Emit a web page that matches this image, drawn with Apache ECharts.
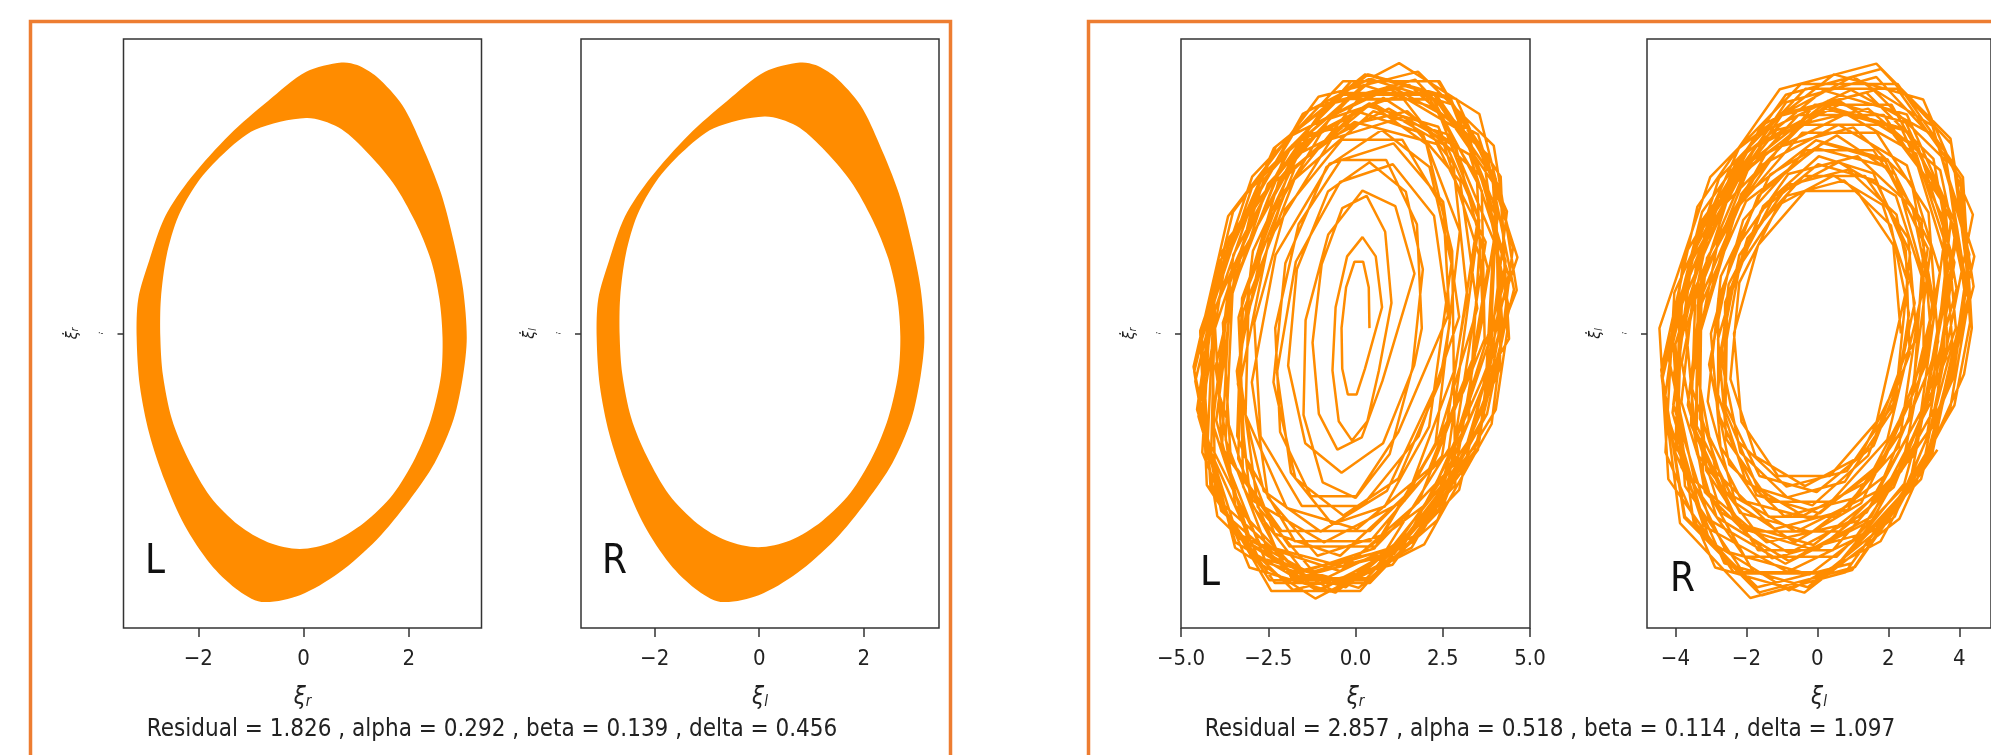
<!DOCTYPE html>
<html>
<head>
<meta charset="utf-8">
<title>Phase portraits</title>
<script src="https://cdn.jsdelivr.net/npm/echarts@6/dist/echarts.min.js"></script>
<style>
  html, body { margin: 0; padding: 0; background: #fff; }
  #main { width: 1991px; height: 755px; }
</style>
</head>
<body>
<div id="main"></div>
<script>
// ---- data ----
// first case: the trajectory fills a band, kept as its outer and inner edge
const bandLOuter = [[0.72,3.22],[0.05,3.11],[-0.68,2.76],[-1.41,2.36],[-2.14,1.85],[-2.63,1.39],[-2.93,0.87],[-3.14,0.41],[-3.17,-0.05],[-3.11,-0.62],[-2.93,-1.19],[-2.63,-1.76],[-2.26,-2.28],[-1.77,-2.74],[-1.29,-3.03],[-0.80,-3.19],[-0.07,-3.11],[0.66,-2.85],[1.39,-2.45],[2.00,-1.99],[2.49,-1.54],[2.85,-1.02],[3.03,-0.50],[3.10,-0.05],[3.03,0.53],[2.85,1.10],[2.61,1.67],[2.24,2.25],[1.88,2.71],[1.39,3.05],[1.02,3.19]];
const bandLInner = [[0.05,2.56],[-0.92,2.42],[-1.53,2.13],[-2.02,1.79],[-2.38,1.39],[-2.60,0.93],[-2.71,0.41],[-2.72,-0.05],[-2.67,-0.50],[-2.50,-1.02],[-2.20,-1.48],[-1.77,-1.94],[-1.23,-2.28],[-0.68,-2.48],[-0.07,-2.56],[0.54,-2.48],[1.15,-2.25],[1.70,-1.91],[2.12,-1.48],[2.42,-1.02],[2.61,-0.50],[2.64,-0.05],[2.58,0.41],[2.42,0.87],[2.12,1.33],[1.70,1.79],[1.15,2.19],[0.66,2.45]];
const bandROuter = [[0.78,3.22],[0.11,3.11],[-0.62,2.76],[-1.35,2.36],[-2.08,1.85],[-2.57,1.39],[-2.87,0.87],[-3.08,0.41],[-3.11,-0.05],[-3.05,-0.62],[-2.87,-1.19],[-2.57,-1.76],[-2.20,-2.28],[-1.71,-2.74],[-1.23,-3.03],[-0.74,-3.19],[-0.01,-3.11],[0.72,-2.85],[1.45,-2.45],[2.06,-1.99],[2.55,-1.54],[2.91,-1.02],[3.09,-0.50],[3.16,-0.05],[3.09,0.53],[2.91,1.10],[2.67,1.67],[2.30,2.25],[1.94,2.71],[1.45,3.05],[1.08,3.19]];
const bandRInner = [[0.10,2.58],[-0.87,2.44],[-1.48,2.15],[-1.97,1.81],[-2.33,1.41],[-2.55,0.95],[-2.66,0.43],[-2.67,-0.03],[-2.62,-0.48],[-2.45,-1.00],[-2.15,-1.46],[-1.72,-1.92],[-1.18,-2.26],[-0.63,-2.46],[-0.02,-2.54],[0.59,-2.46],[1.20,-2.23],[1.75,-1.89],[2.17,-1.46],[2.47,-1.00],[2.66,-0.48],[2.70,-0.03],[2.64,0.43],[2.47,0.89],[2.17,1.35],[1.75,1.81],[1.20,2.21],[0.71,2.47]];

// second case: coarse sampled trajectory, drawn as a polyline
const trajL = [
  [0.40,0.10],[0.38,0.86],[0.22,1.34],[-0.03,1.34],[-0.27,0.86],[-0.40,0.10],[-0.38,-0.66],[-0.22,-1.14],[0.03,-1.14],[0.27,-0.66],
  [0.76,0.49],[0.58,1.44],[0.20,1.80],[-0.24,1.44],[-0.57,0.49],[-0.66,-0.69],[-0.48,-1.64],[-0.10,-2.00],[0.34,-1.64],[0.67,-0.69],
  [1.03,0.57],[0.85,1.90],[0.32,2.57],[-0.38,2.34],[-0.97,1.29],[-1.23,-0.17],[-1.05,-1.50],[-0.52,-2.17],[0.18,-1.94],[0.77,-0.89],
  [1.69,1.12],[1.14,2.38],[0.20,2.67],[-0.78,1.85],[-1.43,0.25],[-1.49,-1.52],[-0.94,-2.78],[0.00,-3.07],[0.98,-2.25],[1.63,-0.65],
  [1.93,1.20],[1.44,2.65],[0.40,3.20],[-0.79,2.65],[-1.68,1.20],[-1.93,-0.60],[-1.44,-2.05],[-0.40,-2.60],[0.79,-2.05],[1.68,-0.60],
  [1.90,0.10],[1.76,2.04],[0.88,3.24],[-0.42,3.24],[-1.63,2.04],[-2.30,0.10],[-2.16,-1.84],[-1.28,-3.04],[0.02,-3.04],[1.23,-1.84],
  [2.65,0.33],[2.25,2.20],[1.07,3.16],[-0.44,2.83],[-1.71,1.34],[-2.25,-0.73],[-1.85,-2.60],[-0.67,-3.56],[0.84,-3.23],[2.11,-1.74],
  [2.75,1.31],[2.12,3.11],[0.75,3.80],[-0.83,3.11],[-2.01,1.31],[-2.35,-0.91],[-1.72,-2.71],[-0.35,-3.40],[1.23,-2.71],[2.41,-0.91],
  [2.70,0.20],[2.52,2.32],[1.34,3.62],[-0.39,3.62],[-2.01,2.32],[-2.90,0.20],[-2.72,-1.92],[-1.54,-3.22],[0.19,-3.22],[1.81,-1.92],
  [2.97,0.31],[2.51,2.46],[1.09,3.55],[-0.74,3.17],[-2.29,1.47],[-2.97,-0.91],[-2.51,-3.06],[-1.09,-4.15],[0.74,-3.77],[2.29,-2.07],
  [2.99,1.91],[1.92,3.74],[0.04,4.15],[-1.93,2.97],[-3.25,0.66],[-3.39,-1.91],[-2.32,-3.74],[-0.44,-4.15],[1.53,-2.97],[2.85,-0.66],
  [3.20,0.70],[2.80,3.18],[1.29,4.45],[-0.75,4.01],[-2.54,2.04],[-3.40,-0.70],[-3.00,-3.18],[-1.49,-4.45],[0.55,-4.01],[2.34,-2.04],
  [3.49,0.47],[3.00,2.84],[1.41,4.05],[-0.69,3.63],[-2.48,1.75],[-3.29,-0.87],[-2.80,-3.24],[-1.21,-4.45],[0.89,-4.03],[2.68,-2.15],
  [3.55,2.12],[2.37,3.86],[0.36,4.25],[-1.71,3.13],[-3.05,0.92],[-3.15,-1.52],[-1.97,-3.26],[0.04,-3.65],[2.11,-2.53],[3.45,-0.32],
  [3.65,0.30],[3.48,2.89],[2.04,4.48],[-0.12,4.48],[-2.18,2.89],[-3.35,0.30],[-3.18,-2.29],[-1.74,-3.88],[0.42,-3.88],[2.48,-2.29],
  [3.52,2.19],[2.34,4.20],[0.23,4.64],[-2.01,3.35],[-3.52,0.82],[-3.72,-1.99],[-2.54,-4.00],[-0.43,-4.44],[1.81,-3.15],[3.32,-0.62],
  [3.79,1.22],[2.86,3.52],[0.80,4.40],[-1.61,3.52],[-3.44,1.22],[-3.99,-1.62],[-3.06,-3.92],[-1.00,-4.80],[1.41,-3.92],[3.24,-1.62],
  [3.54,1.47],[2.54,3.52],[0.50,4.30],[-1.81,3.52],[-3.50,1.47],[-3.94,-1.07],[-2.94,-3.12],[-0.90,-3.90],[1.41,-3.12],[3.10,-1.07],
  [3.70,-0.10],[3.62,2.66],[2.23,4.37],[0.07,4.37],[-2.04,2.66],[-3.30,-0.10],[-3.22,-2.86],[-1.83,-4.57],[0.33,-4.57],[2.44,-2.86],
  [4.21,0.83],[3.64,3.42],[1.71,4.74],[-0.83,4.29],[-3.01,2.23],[-4.01,-0.63],[-3.44,-3.22],[-1.51,-4.54],[1.03,-4.09],[3.21,-2.03],
  [4.20,0.20],[3.97,2.79],[2.29,4.38],[-0.18,4.38],[-2.51,2.79],[-3.80,0.20],[-3.57,-2.39],[-1.89,-3.98],[0.58,-3.98],[2.91,-2.39],
  [4.09,2.22],[2.74,4.37],[0.28,4.84],[-2.34,3.46],[-4.13,0.76],[-4.39,-2.22],[-3.04,-4.37],[-0.58,-4.84],[2.04,-3.46],[3.83,-0.76],
  [4.03,2.18],[2.76,4.28],[0.48,4.74],[-1.95,3.39],[-3.60,0.75],[-3.83,-2.18],[-2.56,-4.28],[-0.28,-4.74],[2.15,-3.39],[3.80,-0.75],
  [4.40,-0.10],[4.15,2.72],[2.31,4.46],[-0.41,4.46],[-2.97,2.72],[-4.40,-0.10],[-4.15,-2.92],[-2.31,-4.66],[0.41,-4.66],[2.97,-2.92],
  [4.39,1.09],[3.27,3.34],[0.95,4.20],[-1.67,3.34],[-3.60,1.09],[-4.09,-1.69],[-2.97,-3.94],[-0.65,-4.80],[1.97,-3.94],[3.90,-1.69],
  [4.51,1.60],[3.55,4.10],[1.25,5.05],[-1.51,4.10],[-3.67,1.60],[-4.41,-1.50],[-3.45,-4.00],[-1.15,-4.95],[1.61,-4.00],[3.77,-1.50],
  [4.39,0.49],[3.65,2.91],[1.48,4.15],[-1.30,3.72],[-3.61,1.80],[-4.59,-0.89],[-3.85,-3.31],[-1.68,-4.55],[1.10,-4.12],[3.41,-2.20],
  [4.54,0.82],[3.77,3.35],[1.54,4.64],[-1.29,4.20],[-3.65,2.19],[-4.64,-0.62],[-3.87,-3.15],[-1.64,-4.44],[1.19,-4.00],[3.55,-1.99],
  [4.30,1.35],[3.24,3.70],[0.90,4.60],[-1.82,3.70],[-3.88,1.35],[-4.50,-1.55],[-3.44,-3.90],[-1.10,-4.80],[1.62,-3.90],[3.68,-1.55],
  [3.96,1.74],[2.69,3.71],[0.51,4.15],[-1.75,2.88],[-3.23,0.40],[-3.36,-2.34],[-2.09,-4.31],[0.09,-4.75],[2.35,-3.48],[3.83,-1.00],
  [4.10,-0.05],[4.02,2.89],[2.41,4.71],[-0.13,4.71],[-2.61,2.89],[-4.10,-0.05],[-4.02,-2.99],[-2.41,-4.81],[0.13,-4.81],[2.61,-2.99],
  [3.73,1.71],[2.33,3.54],[-0.03,3.95],[-2.46,2.77],[-4.03,0.46],[-4.13,-2.11],[-2.73,-3.94],[-0.37,-4.35],[2.06,-3.17],[3.63,-0.86],
  [4.62,0.81],[3.96,3.51],[1.79,4.89],[-1.06,4.42],[-3.51,2.27],[-4.62,-0.71],[-3.96,-3.41],[-1.79,-4.79],[1.06,-4.32],[3.51,-2.17],
  [4.34,2.28],[2.89,4.38],[0.37,4.84],[-2.28,3.49],[-4.04,0.85],[-4.24,-2.08],[-2.79,-4.18],[-0.27,-4.64],[2.38,-3.29],[4.14,-0.65],
  [4.15,0.40],[3.93,2.93],[2.22,4.49],[-0.31,4.49],[-2.71,2.93],[-4.05,0.40],[-3.83,-2.13],[-2.12,-3.69],[0.41,-3.69],[2.81,-2.13],
  [4.64,1.42],[3.51,3.72],[1.05,4.60],[-1.79,3.72],[-3.92,1.42],[-4.54,-1.42],[-3.41,-3.72],[-0.95,-4.60],[1.89,-3.72],[4.02,-1.42],
  [4.35,0.05],[4.16,2.93],[2.36,4.71],[-0.36,4.71],[-2.96,2.93],[-4.45,0.05],[-4.26,-2.83],[-2.46,-4.61],[0.26,-4.61],[2.86,-2.83],
  [2.77,1.54],[2.03,3.54],[0.40,4.30],[-1.50,3.54],[-2.94,1.54],[-3.37,-0.94],[-2.63,-2.94],[-1.00,-3.70],[0.90,-2.94],[2.34,-0.94]
];
const trajR = [
  [2.35,0.00],[2.14,1.65],[1.11,2.66],[-0.35,2.66],[-1.67,1.65],[-2.35,0.00],[-2.14,-1.65],[-1.11,-2.66],[0.35,-2.66],[1.67,-1.65],
  [2.55,0.95],[1.84,2.40],[0.45,2.95],[-1.10,2.40],[-2.20,0.95],[-2.45,-0.85],[-1.74,-2.30],[-0.35,-2.85],[1.20,-2.30],[2.30,-0.85],
  [2.58,0.37],[2.07,2.02],[0.75,2.86],[-0.87,2.57],[-2.19,1.26],[-2.68,-0.57],[-2.17,-2.22],[-0.85,-3.06],[0.77,-2.77],[2.09,-1.46],
  [2.74,0.57],[2.23,2.22],[0.87,3.06],[-0.83,2.77],[-2.20,1.46],[-2.74,-0.37],[-2.23,-2.02],[-0.87,-2.86],[0.83,-2.57],[2.20,-1.26],
  [2.61,1.51],[1.63,2.86],[0.02,3.16],[-1.59,2.29],[-2.60,0.58],[-2.61,-1.31],[-1.63,-2.66],[-0.02,-2.96],[1.59,-2.09],[2.60,-0.38],
  [2.49,1.55],[1.58,2.99],[0.04,3.31],[-1.53,2.38],[-2.54,0.56],[-2.59,-1.45],[-1.68,-2.89],[-0.14,-3.21],[1.43,-2.28],[2.44,-0.46],
  [2.80,-0.10],[2.56,1.78],[1.34,2.94],[-0.39,2.94],[-1.97,1.78],[-2.80,-0.10],[-2.56,-1.98],[-1.34,-3.14],[0.39,-3.14],[1.97,-1.98],
  [3.01,0.92],[2.21,2.57],[0.60,3.20],[-1.20,2.57],[-2.50,0.92],[-2.81,-1.12],[-2.01,-2.77],[-0.40,-3.40],[1.40,-2.77],[2.70,-1.12],
  [3.00,1.69],[1.91,3.22],[0.13,3.56],[-1.67,2.57],[-2.79,0.65],[-2.80,-1.49],[-1.71,-3.02],[0.07,-3.36],[1.87,-2.37],[2.99,-0.45],
  [2.99,1.07],[2.20,2.97],[0.55,3.70],[-1.33,2.97],[-2.72,1.07],[-3.09,-1.27],[-2.30,-3.17],[-0.65,-3.90],[1.23,-3.17],[2.62,-1.27],
  [3.25,0.48],[2.68,2.35],[1.13,3.31],[-0.82,2.98],[-2.41,1.49],[-3.05,-0.58],[-2.48,-2.45],[-0.93,-3.41],[1.02,-3.08],[2.61,-1.59],
  [3.20,0.00],[2.93,2.12],[1.58,3.42],[-0.34,3.42],[-2.09,2.12],[-3.00,0.00],[-2.73,-2.12],[-1.38,-3.42],[0.54,-3.42],[2.29,-2.12],
  [3.11,1.59],[1.93,3.12],[-0.02,3.46],[-2.01,2.47],[-3.27,0.55],[-3.31,-1.59],[-2.13,-3.12],[-0.18,-3.46],[1.81,-2.47],[3.07,-0.55],
  [3.25,0.69],[2.66,2.79],[1.01,3.85],[-1.06,3.49],[-2.77,1.83],[-3.45,-0.49],[-2.86,-2.59],[-1.21,-3.65],[0.86,-3.29],[2.57,-1.63],
  [3.20,1.63],[1.98,3.25],[-0.04,3.61],[-2.08,2.57],[-3.37,0.53],[-3.40,-1.73],[-2.18,-3.35],[-0.16,-3.71],[1.88,-2.67],[3.17,-0.63],
  [3.40,-0.15],[3.13,2.26],[1.67,3.75],[-0.43,3.75],[-2.37,2.26],[-3.40,-0.15],[-3.13,-2.56],[-1.67,-4.05],[0.43,-4.05],[2.37,-2.56],
  [3.45,1.14],[2.52,3.14],[0.60,3.90],[-1.59,3.14],[-3.21,1.14],[-3.65,-1.34],[-2.72,-3.34],[-0.80,-4.10],[1.39,-3.34],[3.01,-1.34],
  [3.74,1.41],[2.78,3.36],[0.80,4.10],[-1.45,3.36],[-3.11,1.41],[-3.54,-1.01],[-2.58,-2.96],[-0.60,-3.70],[1.65,-2.96],[3.31,-1.01],
  [3.90,0.10],[3.59,2.45],[1.94,3.90],[-0.41,3.90],[-2.56,2.45],[-3.70,0.10],[-3.39,-2.25],[-1.74,-3.70],[0.61,-3.70],[2.76,-2.25],
  [3.63,2.01],[2.36,3.84],[0.23,4.25],[-1.95,3.07],[-3.35,0.76],[-3.43,-1.81],[-2.16,-3.64],[-0.03,-4.05],[2.15,-2.87],[3.55,-0.56],
  [3.63,1.38],[2.64,3.53],[0.60,4.35],[-1.71,3.53],[-3.40,1.38],[-3.83,-1.28],[-2.84,-3.43],[-0.80,-4.25],[1.51,-3.43],[3.20,-1.28],
  [3.76,2.11],[2.49,3.94],[0.31,4.35],[-1.95,3.17],[-3.43,0.86],[-3.56,-1.71],[-2.29,-3.54],[-0.11,-3.95],[2.15,-2.77],[3.63,-0.46],
  [3.65,-0.10],[3.51,2.60],[2.09,4.27],[-0.08,4.27],[-2.15,2.60],[-3.35,-0.10],[-3.21,-2.80],[-1.79,-4.47],[0.38,-4.47],[2.45,-2.80],
  [3.92,0.84],[3.27,3.26],[1.38,4.50],[-1.01,4.07],[-3.00,2.15],[-3.82,-0.54],[-3.17,-2.96],[-1.28,-4.20],[1.11,-3.77],[3.10,-1.85],
  [3.86,1.33],[2.84,3.48],[0.70,4.30],[-1.75,3.48],[-3.56,1.33],[-4.06,-1.33],[-3.04,-3.48],[-0.90,-4.30],[1.55,-3.48],[3.36,-1.33],
  [3.80,-0.20],[3.53,2.45],[1.87,4.08],[-0.54,4.08],[-2.79,2.45],[-4.00,-0.20],[-3.73,-2.85],[-2.07,-4.48],[0.34,-4.48],[2.59,-2.85],
  [3.95,1.85],[2.57,3.77],[0.22,4.20],[-2.23,2.96],[-3.82,0.54],[-3.95,-2.15],[-2.57,-4.07],[-0.22,-4.50],[2.23,-3.26],[3.82,-0.84],
  [4.18,0.79],[3.46,3.05],[1.43,4.20],[-1.15,3.80],[-3.29,2.01],[-4.18,-0.49],[-3.46,-2.75],[-1.43,-3.90],[1.15,-3.50],[3.29,-1.71],
  [3.90,2.03],[2.52,4.09],[0.17,4.54],[-2.28,3.22],[-3.87,0.63],[-4.00,-2.23],[-2.62,-4.29],[-0.27,-4.74],[2.18,-3.42],[3.77,-0.83],
  [4.28,1.48],[3.24,3.88],[1.00,4.80],[-1.58,3.88],[-3.52,1.48],[-4.08,-1.48],[-3.04,-3.88],[-0.80,-4.80],[1.78,-3.88],[3.72,-1.48],
  [4.26,0.63],[3.63,3.22],[1.59,4.54],[-1.07,4.09],[-3.34,2.03],[-4.36,-0.83],[-3.73,-3.42],[-1.69,-4.74],[0.97,-4.29],[3.24,-2.23],
  [4.16,0.71],[3.59,3.41],[1.66,4.79],[-0.88,4.32],[-3.06,2.17],[-4.06,-0.81],[-3.49,-3.51],[-1.56,-4.89],[0.98,-4.42],[3.16,-2.27],
  [4.42,1.44],[3.31,3.69],[0.95,4.55],[-1.75,3.69],[-3.76,1.44],[-4.32,-1.34],[-3.21,-3.59],[-0.85,-4.45],[1.85,-3.59],[3.86,-1.34],
  [4.30,0.20],[4.03,2.90],[2.25,4.57],[-0.34,4.57],[-2.77,2.90],[-4.10,0.20],[-3.83,-2.50],[-2.05,-4.17],[0.54,-4.17],[2.97,-2.50],
  [4.38,2.22],[2.98,4.37],[0.47,4.84],[-2.21,3.46],[-4.03,0.76],[-4.28,-2.22],[-2.88,-4.37],[-0.37,-4.84],[2.31,-3.46],[4.13,-0.76],
  [4.35,0.10],[4.10,2.92],[2.26,4.66],[-0.46,4.66],[-3.02,2.92],[-4.45,0.10],[-4.20,-2.72],[-2.36,-4.46],[0.36,-4.46],[2.92,-2.72],
  [4.29,0.78],[3.77,3.54],[1.79,4.94],[-0.89,4.46],[-3.25,2.27],[-4.39,-0.78],[-3.87,-3.54],[-1.89,-4.94],[0.79,-4.46],[3.15,-2.27],
  [4.40,0.88],[3.75,3.64],[1.66,5.04],[-1.06,4.56],[-3.38,2.37],[-4.40,-0.68],[-3.75,-3.44],[-1.66,-4.84],[1.06,-4.36],[3.38,-2.17]
];

const xTicksBand = [-2, 0, 2];
const xTicksL2 = [-5, -2.5, 0, 2.5, 5];
const xTicksR2 = [-4, -2, 0, 2, 4];
const xRanges = [[-3.42, 3.38], [-3.41, 3.44], [-5, 5], [-4.8, 4.89]];
const yRanges = [[-3.5, 3.5], [-3.5, 3.5], [-5.5, 5.5], [-5.5, 5.5]];
const sideNames = ['L', 'R', 'L', 'R'];
const subNames = ['r', 'l', 'r', 'l'];
const captions = [
  'Residual = 1.826 , alpha = 0.292 , beta = 0.139 , delta = 0.456',
  'Residual = 2.857 , alpha = 0.518 , beta = 0.114 , delta = 1.097'
];

// ---- layout ----
const ORANGE = '#ff8c00';
const FRAME = '#ed7d31';
const FONT = '"DejaVu Sans Condensed", "Liberation Sans Narrow", "DejaVu Sans", sans-serif';
const grids = [
  {left: 123.5, top: 39, width: 358, height: 589},
  {left: 581, top: 39, width: 358, height: 589},
  {left: 1181, top: 39, width: 349, height: 589},
  {left: 1647, top: 39, width: 349, height: 589}
];
const tickSets = [xTicksBand, xTicksBand, xTicksL2, xTicksR2];
const tickDigits = [0, 0, 1, 0];

function fmt(v, d) {
  return (v < 0 ? '\u2212' : '') + Math.abs(v).toFixed(d);
}

const chart = echarts.init(document.getElementById('main'), null, {renderer: 'canvas'});

const xAxes = grids.map((g, i) => ({
  gridIndex: i,
  type: 'value',
  min: xRanges[i][0],
  max: xRanges[i][1],
  splitLine: {show: false},
  axisLine: {show: false, onZero: false},
  axisTick: {show: true, length: 9, customValues: tickSets[i], lineStyle: {color: '#333', width: 1.5}},
  axisLabel: {
    customValues: tickSets[i], margin: 20, fontSize: 22, color: '#222', fontFamily: FONT,
    formatter: v => fmt(v, tickDigits[i])
  },
  name: '{x|\u03be}{s|' + subNames[i] + '}',
  nameLocation: 'middle',
  nameGap: 52,
  nameTextStyle: {
    fontFamily: FONT,
    rich: {
      x: {fontSize: 24, fontStyle: 'italic', color: '#222', fontFamily: FONT, lineHeight: 30, verticalAlign: 'bottom'},
      s: {fontSize: 15, fontStyle: 'italic', color: '#222', fontFamily: FONT, lineHeight: 12, verticalAlign: 'bottom'}
    }
  }
}));

const yAxes = grids.map((g, i) => ({
  gridIndex: i,
  type: 'value',
  min: yRanges[i][0],
  max: yRanges[i][1],
  splitLine: {show: false},
  axisLine: {show: false, onZero: false},
  axisTick: {show: true, length: 6, customValues: [0], lineStyle: {color: '#333', width: 1.5}},
  axisLabel: {customValues: [0], margin: 20, fontSize: 9, color: '#222', fontFamily: FONT, formatter: () => '\u00b7-'},
  name: '{x|\u03be\u0307}{s|' + subNames[i] + '}',
  nameLocation: 'middle',
  nameRotate: 90,
  nameGap: 43,
  nameTextStyle: {
    fontFamily: FONT,
    rich: {
      x: {fontSize: 16, fontStyle: 'italic', color: '#222', fontFamily: FONT, lineHeight: 20, verticalAlign: 'bottom'},
      s: {fontSize: 10, fontStyle: 'italic', color: '#222', fontFamily: FONT, lineHeight: 8, verticalAlign: 'bottom'}
    }
  }
}));

function bandSeries(i, outer, inner) {
  return {
    type: 'custom',
    xAxisIndex: i,
    yAxisIndex: i,
    data: outer,
    silent: true,
    renderItem: (params, api) => {
      if (params.dataIndex !== 0) return null;
      return {
        type: 'group',
        children: [
          {type: 'polygon', shape: {points: outer.map(p => api.coord(p)), smooth: 0.3}, style: {fill: ORANGE}},
          {type: 'polygon', shape: {points: inner.map(p => api.coord(p)), smooth: 0.3}, style: {fill: '#fff'}}
        ]
      };
    }
  };
}

function trajSeries(i, pts) {
  return {
    type: 'line',
    xAxisIndex: i,
    yAxisIndex: i,
    data: pts,
    showSymbol: false,
    symbol: 'none',
    silent: true,
    lineStyle: {color: ORANGE, width: 2.5},
    z: 3
  };
}

const sideLabelPos = [[145, 563], [602, 563], [1200, 575], [1670, 581]];

const option = {
  animation: false,
  backgroundColor: '#fff',
  grid: grids.map(g => Object.assign({show: true, borderColor: '#333', borderWidth: 1.5, backgroundColor: 'transparent'}, g)),
  xAxis: xAxes,
  yAxis: yAxes,
  series: [
    bandSeries(0, bandLOuter, bandLInner),
    bandSeries(1, bandROuter, bandRInner),
    trajSeries(2, trajL),
    trajSeries(3, trajR)
  ],
  graphic: [
    {type: 'rect', shape: {x: 30.5, y: 21.5, width: 920, height: 800}, style: {fill: 'none', stroke: FRAME, lineWidth: 3.5}, z: 10},
    {type: 'rect', shape: {x: 1088.5, y: 21.5, width: 1000, height: 800}, style: {fill: 'none', stroke: FRAME, lineWidth: 3.5}, z: 10},
    {type: 'text', x: 492, y: 730, style: {text: captions[0], fontSize: 24, fontFamily: FONT, fill: '#222', align: 'center', verticalAlign: 'middle'}},
    {type: 'text', x: 1550, y: 730, style: {text: captions[1], fontSize: 24, fontFamily: FONT, fill: '#222', align: 'center', verticalAlign: 'middle'}}
  ].concat(sideNames.map((t, i) => ({
    type: 'text', x: sideLabelPos[i][0], y: sideLabelPos[i][1], z: 10,
    style: {text: t, fontSize: 40, fontFamily: FONT, fill: '#111', align: 'left', verticalAlign: 'middle'}
  })))
};

chart.setOption(option);
</script>
</body>
</html>
